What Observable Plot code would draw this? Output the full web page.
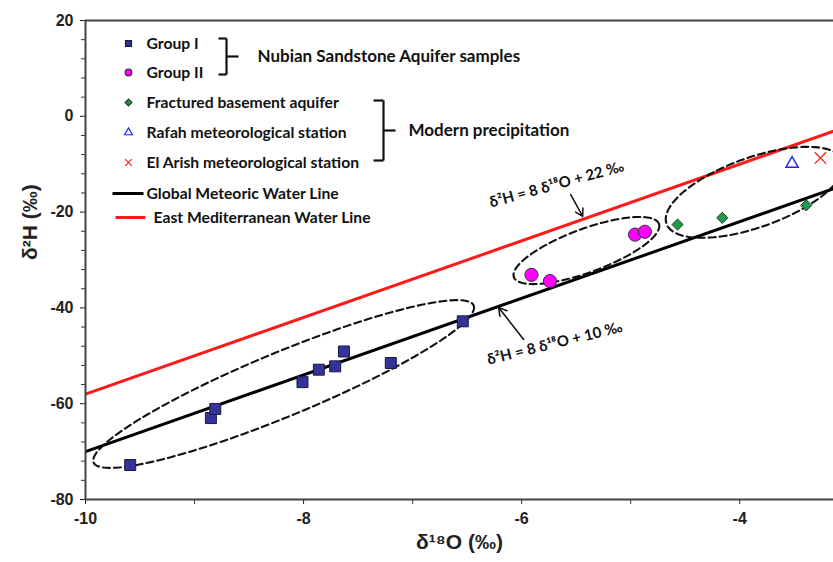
<!DOCTYPE html>
<html><head><meta charset="utf-8">
<script src="https://cdn.jsdelivr.net/npm/d3@7"></script>
<script src="https://cdn.jsdelivr.net/npm/@observablehq/plot@0.6"></script>
<style>body{margin:0;background:#fff}#chart{width:833px;height:562px}</style>
</head><body><div id="chart"></div>
<script>
// ---- data ----
const groupI_d18O = [-9.59, -8.85, -8.81, -8.01, -7.86, -7.71, -7.63, -7.20, -6.54];
const groupI_d2H  = [-72.8, -63.0, -61.1, -55.5, -52.9, -52.2, -49.1, -51.5, -42.8];
const groupII_d18O = [-5.91, -5.74, -4.96, -4.87];
const groupII_d2H  = [-33.1, -34.4, -24.7, -24.1];
const fractured_d18O = [-4.57, -4.16, -3.39];
const fractured_d2H  = [-22.6, -21.2, -18.6];
const rafah_d18O = [-3.52];
const rafah_d2H  = [-9.9];
const elarish_d18O = [-3.26];
const elarish_d2H  = [-8.7];
const waterLineNames = ["Global Meteoric Water Line", "East Mediterranean Water Line"];
const waterLineSlopes = [8, 8];
const waterLineIntercepts = [10, 22];
const xTickValues = [-10, -8, -6, -4];
const xMinorTicks = [-9, -7, -5, -3];
const yTickValues = [-80, -60, -40, -20, 0, 20];
const yMinorTicks = [-76,-72,-68,-64,-56,-52,-48,-44,-36,-32,-28,-24,-16,-12,-8,-4,4,8,12,16];

// ---- layout ----
const W = 833, H = 562, ML = 85, MR = 0, MT = 20, MB = 63;
const xDomain = [-10, -3.14], yDomain = [-80, 20];
const px2x = px => xDomain[0] + (px - ML) / (W - ML - MR) * (xDomain[1] - xDomain[0]);
const py2y = py => yDomain[1] - (py - MT) / (H - MT - MB) * (yDomain[1] - yDomain[0]);

const pts = (xs, ys) => xs.map((x, i) => ({x, y: ys[i]}));
const lines = waterLineNames.flatMap((name, i) => xDomain.map(x => ({name, x, y: waterLineSlopes[i] * x + waterLineIntercepts[i]})));

// dashed grouping ellipses (centre + two conjugate semi-diameters, data units)
const ellipses = [
  {cx: -8.183, cy: -55.89, ax: 1.743, ay: 16.39, bx: 0.112, by: -6.18},
  {cx: -5.406, cy: -28.02, ax: 0.665, ay: 5.57, bx: 0.0688, by: -4.26},
  {cx: -3.862, cy: -15.87, ax: 0.8165, ay: 5.616, bx: 0, by: -7.66}
];
const ellipsePts = ellipses.flatMap((e, i) => d3.range(0, 145).map(k => {
  const t = k / 144 * 2 * Math.PI;
  return {i, x: e.cx + Math.cos(t) * e.ax + Math.sin(t) * e.bx, y: e.cy + Math.cos(t) * e.ay + Math.sin(t) * e.by};
}));

const FONT = "Lato, 'Open Sans', sans-serif";
const AXFONT = "'Liberation Sans', Arial, sans-serif";

// legend
const legendMarkers = [
  {label: "Group I", symbol: "square", fill: "#333399", stroke: "#1a1a40", r: 5, py: 43},
  {label: "Group II", symbol: "circle", fill: "#ff00ff", stroke: "#333", r: 5, py: 72},
  {label: "Fractured basement aquifer", symbol: "diamond2", fill: "#1f9a4f", stroke: "#1a3a1a", r: 4, py: 102},
  {label: "Rafah meteorological station", symbol: "triangle", fill: "none", stroke: "#2020ff", r: 3.8, py: 132},
  {label: "El Arish meteorological station", symbol: "times", fill: "none", stroke: "#ff2020", r: 4.4, py: 162}
];
const legendLines = [
  {label: "Global Meteoric Water Line", stroke: "#000", px1: 112, px2: 143, tx: 146, py: 193},
  {label: "East Mediterranean Water Line", stroke: "#ff1a1a", px1: 115, px2: 145, tx: 153, py: 217}
];
const brackets = [
  {ax: 218, vx: 226, top: 38, bottom: 74, mid: 56, tipx: 238, tx: 257, label: "Nubian Sandstone Aquifer samples"},
  {ax: 373, vx: 383, top: 100, bottom: 160, mid: 130, tipx: 395, tx: 408, label: "Modern precipitation"}
];
const bracketSegs = brackets.flatMap((b, i) => [
  {x1: b.ax, y1: b.top, x2: b.vx, y2: b.top},
  {x1: b.vx, y1: b.top, x2: b.vx, y2: b.bottom},
  {x1: b.ax, y1: b.bottom, x2: b.vx, y2: b.bottom},
  {x1: b.vx, y1: b.mid, x2: b.tipx, y2: b.mid}
]);

const annotations = [
  {x: -5.679, y: -14.24, text: "δ²H = 8 δ¹⁸O + 22 ‰", rotate: -15.3, x1: -5.55, y1: -16.33, x2: -5.44, y2: -20.9},
  {x: -5.697, y: -47.43, text: "δ²H = 8 δ¹⁸O + 10 ‰", rotate: -13.8, x1: -5.982, y1: -46.6, x2: -6.211, y2: -39.9}
];

const chart = Plot.plot({
  width: W, height: H,
  marginLeft: ML, marginRight: MR, marginTop: MT, marginBottom: MB,
  x: {domain: xDomain, label: null},
  y: {domain: yDomain, label: null},
  style: {background: "#fff", overflow: "visible"},
  marks: [
    Plot.line(lines, {x: "x", y: "y", z: "name", stroke: d => d.name === waterLineNames[0] ? "#000" : "#ff1a1a", strokeWidth: 3, clip: true}),
    Plot.line(ellipsePts, {x: "x", y: "y", z: "i", stroke: "#111", strokeWidth: 2.1, strokeDasharray: "7,4", clip: true}),
    Plot.dot(pts(groupI_d18O, groupI_d2H), {x: "x", y: "y", symbol: "square", r: 6.2, fill: "#333399", stroke: "#1a1a40", strokeWidth: 1}),
    Plot.dot(pts(groupII_d18O, groupII_d2H), {x: "x", y: "y", symbol: "circle", r: 6.6, fill: "#ff00ff", stroke: "#333", strokeWidth: 1}),
    Plot.dot(pts(fractured_d18O, fractured_d2H), {x: "x", y: "y", symbol: "diamond2", r: 5, fill: "#1f9a4f", stroke: "#1a3a1a", strokeWidth: 1}),
    Plot.dot(pts(rafah_d18O, rafah_d2H), {x: "x", y: "y", symbol: "triangle", r: 4.6, fill: "none", stroke: "#2020ff", strokeWidth: 1.4}),
    Plot.dot(pts(elarish_d18O, elarish_d2H), {x: "x", y: "y", symbol: "times", r: 5.2, fill: "none", stroke: "#ff2020", strokeWidth: 1.4, clip: true}),
    // annotations
    ...annotations.map(a => Plot.text([a], {x: "x", y: "y", text: "text", rotate: a.rotate, fontSize: 15, fontWeight: "bold", fontFamily: FONT, fill: "#111"})),
    Plot.arrow(annotations, {x1: "x1", y1: "y1", x2: "x2", y2: "y2", stroke: "#111", strokeWidth: 1.5, headLength: 9}),
    // legend
    Plot.dot(legendMarkers, {x: () => px2x(128), y: d => py2y(d.py), symbol: "symbol", r: "r", fill: "fill", stroke: "stroke", strokeWidth: 1.2}),
    Plot.text(legendMarkers, {x: () => px2x(146), y: d => py2y(d.py), text: "label", textAnchor: "start", fontSize: 15.7, fontWeight: "bold", fontFamily: FONT, fill: "#111"}),
    Plot.link(legendLines, {x1: d => px2x(d.px1), x2: d => px2x(d.px2), y1: d => py2y(d.py), y2: d => py2y(d.py), stroke: "stroke", strokeWidth: 3}),
    Plot.text(legendLines, {x: d => px2x(d.tx), y: d => py2y(d.py), text: "label", textAnchor: "start", fontSize: 15.7, fontWeight: "bold", fontFamily: FONT, fill: "#111"}),
    Plot.link(bracketSegs, {x1: d => px2x(d.x1), x2: d => px2x(d.x2), y1: d => py2y(d.y1), y2: d => py2y(d.y2), stroke: "#111", strokeWidth: 2.2}),
    Plot.text(brackets, {x: d => px2x(d.tx), y: d => py2y(d.mid), text: "label", textAnchor: "start", fontSize: 17, fontWeight: "bold", fontFamily: FONT, fill: "#111"}),
    // axes
    Plot.axisY({ticks: yTickValues, tickSize: 5, tickPadding: 7, tickFormat: d => String(d), fontSize: 16, fontWeight: "bold", fontFamily: AXFONT, label: null, color: "#222"}),
    Plot.axisY({ticks: yMinorTicks, tickSize: 4, tickFormat: () => "", label: null, stroke: "#333"}),
    Plot.axisX({ticks: xTickValues, tickSize: 5, tickPadding: 8, tickFormat: d => String(d), fontSize: 16, fontWeight: "bold", fontFamily: AXFONT, label: null, color: "#222"}),
    Plot.axisX({ticks: xMinorTicks, tickSize: 5, tickFormat: () => "", label: null, stroke: "#333"}),
    Plot.ruleX([xDomain[0]], {stroke: "#444", strokeWidth: 2}),
    Plot.ruleY([yDomain[0]], {stroke: "#444", strokeWidth: 2.2}),
    Plot.ruleY([yDomain[1]], {stroke: "#444", strokeWidth: 2.2}),
    Plot.text(["δ²H (‰)"], {frameAnchor: "left", dx: -55, rotate: -90, fontSize: 21, fontWeight: "bold", fontFamily: AXFONT, fill: "#222"}),
    Plot.text(["δ¹⁸O (‰)"], {frameAnchor: "bottom", dy: 49, fontSize: 21, fontWeight: "bold", fontFamily: "'Liberation Sans Narrow', " + AXFONT, fill: "#222"})
  ]
});
document.getElementById("chart").append(chart);
</script>
</body></html>
